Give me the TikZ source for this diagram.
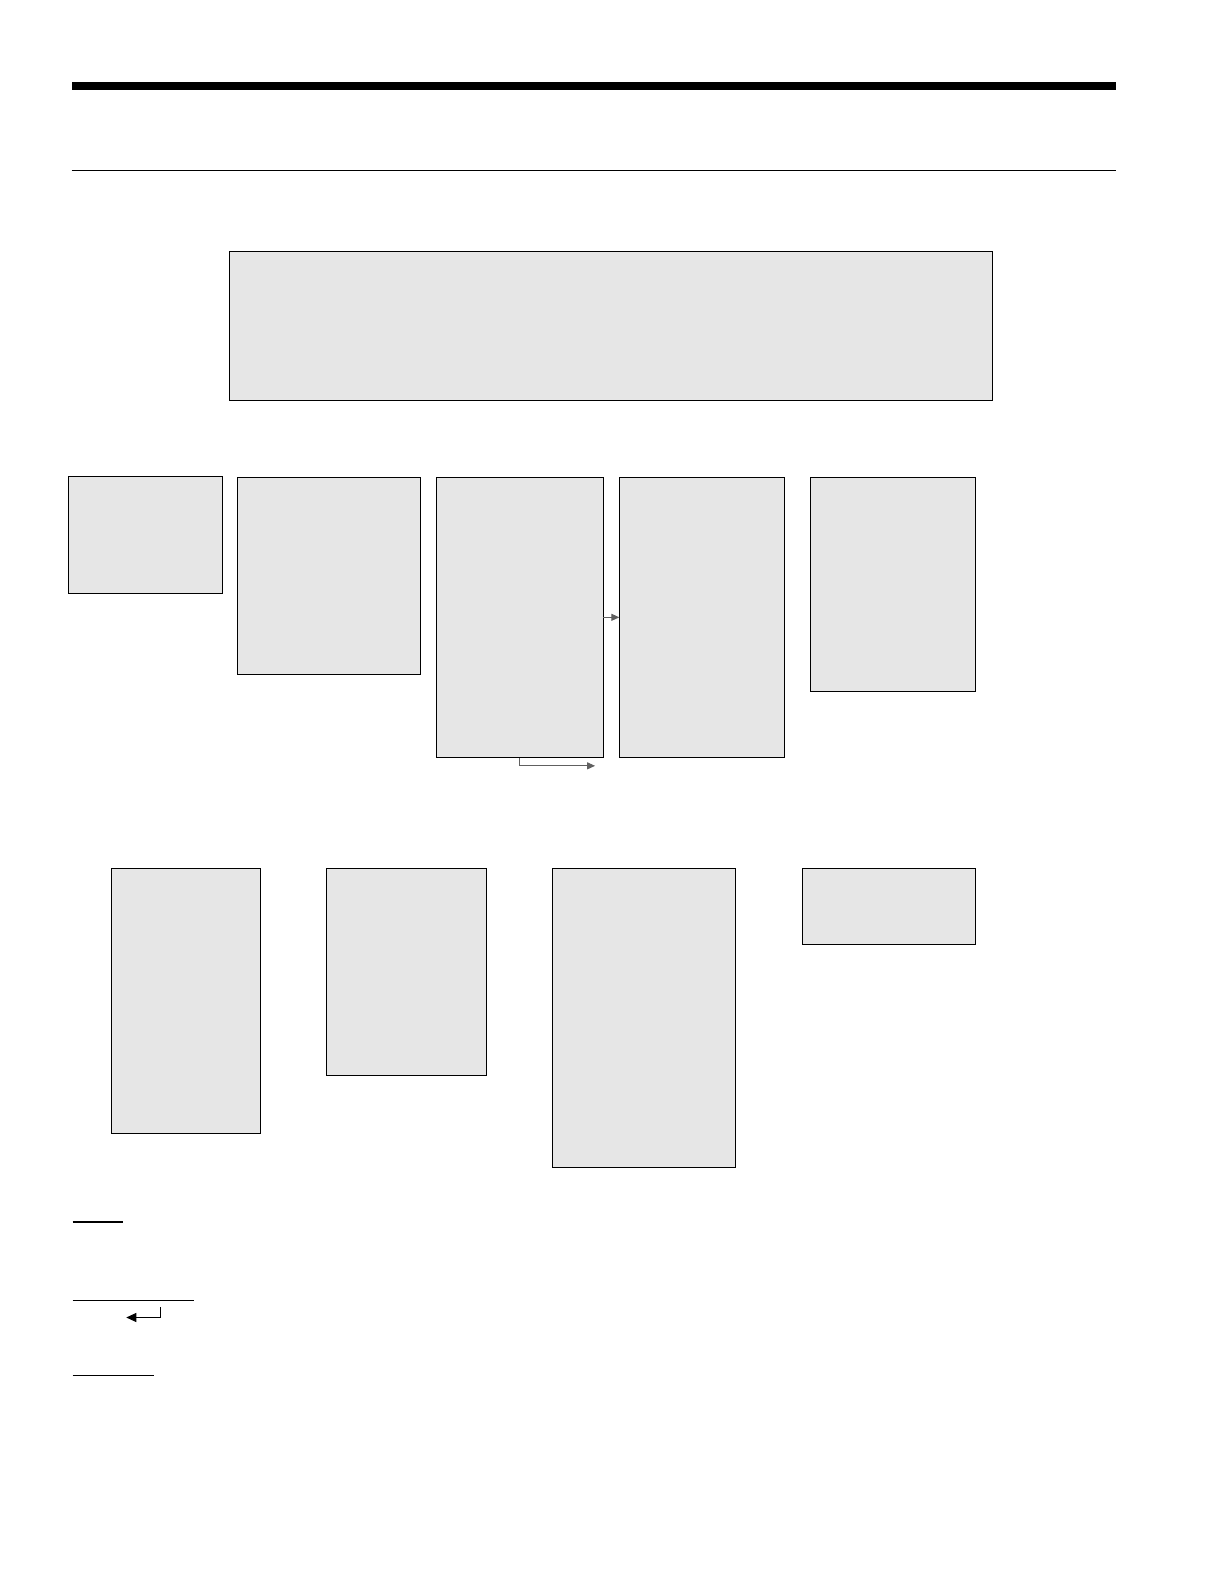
\documentclass[tikz,border=0pt]{standalone}
\usetikzlibrary{arrows.meta}
\definecolor{boxfill}{HTML}{E6E6E6}
\definecolor{arrowgray}{HTML}{606060}
\tikzset{
  panel/.style={draw=black, line width=1pt, fill=boxfill},
  flowarrow/.style={draw=arrowgray, line width=1pt, -{Triangle[length=8pt,width=7pt]}},
  legendarrow/.style={draw=black, line width=1pt, -{Triangle[length=10pt,width=9pt]}},
}
\begin{document}
\begin{tikzpicture}[x=1pt,y=-1pt]
\useasboundingbox (0,0) rectangle (1224,1584);
\begin{scope}[scale=1.0101]
% header rules
\fill[black] (71,81.5) rectangle (1105,89);
\draw[line width=1pt] (71,168.5) -- (1105,168.5);
% top box
\draw[panel] (227,249) rectangle (983,396);
% row 1
\draw[panel] (68,472) rectangle (220,588);
\draw[panel] (235,473) rectangle (416,668);
\draw[panel] (432,473) rectangle (597,750);
\draw[panel] (613,473) rectangle (777,750);
\draw[panel] (802,473) rectangle (966,685);
\coordinate (c3r) at (597,611);
\coordinate (c4l) at (613,611);
\coordinate (c3b) at (514,750);
\coordinate (c3end) at (589,758);
\draw[flowarrow] (c3r) -- (c4l);
\draw[flowarrow] (c3b) |- (c3end);
% row 2
\draw[panel] (110,860) rectangle (258,1122);
\draw[panel] (323,860) rectangle (482,1065);
\draw[panel] (547,860) rectangle (728,1156);
\draw[panel] (794,860) rectangle (966,935);
% legend
\draw[line width=2.5pt] (72,1210) -- (122,1210);
\draw[line width=1pt] (72,1287) -- (192,1287);
\coordinate (retstart) at (159,1294);
\coordinate (retend) at (125,1304);
\draw[legendarrow] (retstart) |- (retend);
\draw[line width=1pt] (72,1362) -- (152,1362);
\end{scope}
\end{tikzpicture}
\end{document}
